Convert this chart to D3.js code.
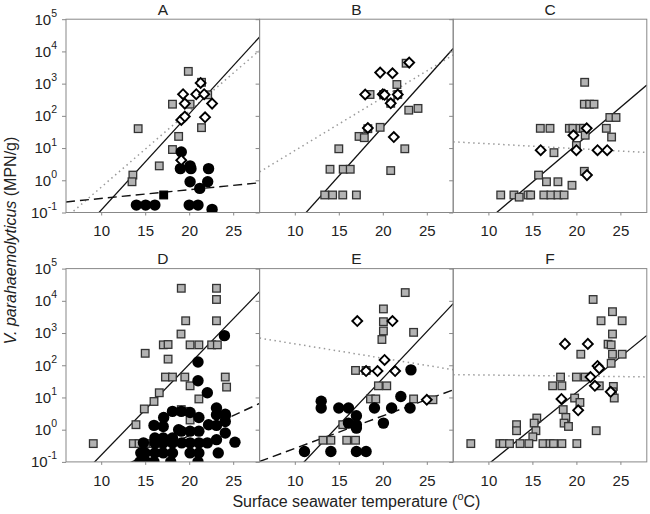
<!DOCTYPE html>
<html><head><meta charset="utf-8">
<script src="https://cdn.jsdelivr.net/npm/d3@7"></script>
<style>body{margin:0;background:#fff}svg{display:block}</style>
</head><body><svg id="c" width="650" height="514"></svg>
<script>
// ---------- DATA ----------
const panelNames = ["A","B","C","D","E","F"];
const xTicks = [10,15,20,25];
const yTickExps = [-1,0,1,2,3,4,5];
const xTitle = "Surface seawater temperature (";
const yTitleItalic = "V. parahaemolyticus";
const yTitleRest = " (MPN/g)";

// [temperature °C, MPN/g]
const squaresA = [[14.2,40],[13.6,1.45],[13.5,0.9],[16.6,2.8],[18.1,9],[18.8,23],[18.1,230],[19.9,2400],[20.1,230],[21.4,43],[21.4,1100],[22.1,450]];
const diamondsA = [[19.3,470],[20.8,470],[21.7,470],[22.6,240],[19.5,240],[21.3,1050],[21.8,90],[19.1,75],[19.5,95],[19.1,4.2]];
const circlesA = [[19.1,7.6],[19.0,2.3],[20.1,2.8],[20.2,2.3],[20.1,0.9],[21.2,0.56],[22.2,2.3],[22.1,0.9],[14.0,0.17],[15.05,0.17],[16.1,0.17],[20.0,0.17],[21.0,0.17],[22.6,0.125]];
const blackSquaresA = [[17.1,0.35]];

const squaresB = [[22.65,4300],[21.6,940],[18.55,460],[20.1,460],[21.7,460],[20.9,245],[22.95,150],[24.0,170],[19.7,44],[18.3,40],[17.3,23],[17.9,21],[15.0,9.5],[22.5,9.5],[14.0,2.2],[15.5,2.2],[16.3,2.2],[20.9,2.0],[13.4,0.35],[14.3,0.35],[15.45,0.35],[17.0,0.35]];
const diamondsB = [[23.0,4500],[19.7,2200],[21.1,2100],[18.0,460],[20.0,470],[20.2,450],[21.7,460],[20.9,245],[18.3,42],[21.25,22]];

const squaresC = [[20.94,1100],[20.9,230],[21.5,230],[22.0,230],[23.8,89],[24.5,89],[15.9,41],[17.0,41],[19.2,41],[19.6,41],[20.4,41],[20.8,41],[23.4,41],[21.0,25],[24.0,22],[17.45,7.2],[20.0,12],[20.9,1.9],[15.7,1.45],[16.6,0.9],[17.9,0.9],[19.5,0.7],[11.4,0.35],[12.9,0.35],[14.5,0.35],[14.8,0.35],[16.3,0.35],[17.1,0.35],[17.9,0.35],[18.6,0.35],[13.5,0.3]];
const diamondsC = [[21.17,41],[19.66,25],[15.94,8.6],[20.0,8.6],[22.4,8.6],[23.5,8.6],[21.2,1.45]];

const squaresD = [[9.1,0.37],[15.0,235],[13.95,1.43],[14.9,4.4],[16.0,7.5],[16.6,14],[17.06,430],[17.6,440],[17.6,155],[17.3,43],[18.1,43],[19.1,24500],[19.6,2400],[19.07,930],[20.1,430],[21.1,430],[22.55,430],[23.2,430],[19.5,43],[20.1,23],[21.1,9],[19.1,4.2],[19.5,3.7],[20.1,2],[23.1,24500],[23.1,11000],[23.1,2400],[24.1,43],[24.25,21],[13.65,0.37],[14.3,0.37],[15.05,0.37],[15.9,0.37],[16.6,0.37]];
const circlesD = [[24.0,830],[21.0,126],[21.0,33],[22.06,14],[23.1,4.7],[24.1,3.0],[23.1,2.9],[24.1,2.7],[23.1,1.36],[24.1,1.8],[18.1,3.7],[19.1,3.7],[20.1,3.4],[21.1,2.4],[17.1,2.4],[16.0,1.36],[17.05,1.26],[22.2,1.43],[18.8,1.0],[19.1,0.9],[20.1,0.9],[21.1,0.9],[24.1,0.79],[16.1,0.55],[17.05,0.55],[18.1,0.55],[23.1,0.49],[25.2,0.41],[14.8,0.39],[16.1,0.39],[17.05,0.39],[18.1,0.39],[19.15,0.39],[20.1,0.39],[21.1,0.39],[22.06,0.39],[15.0,0.19],[16.1,0.19],[17.05,0.19],[18.1,0.19],[20.1,0.19],[21.1,0.19],[23.3,0.19],[14.5,0.19],[14.4,0.1],[15.1,0.1],[16.0,0.1],[17.9,0.1],[21.0,0.1]];

const squaresE = [[22.55,18000],[20.07,5600],[20.07,2250],[20.07,1160],[19.9,630],[23.5,1050],[16.9,69],[18.1,69],[19.5,23],[20.45,23],[18.6,9],[19.2,9],[23.5,9],[25.7,8.5],[15.45,1.43],[13.2,0.47],[14.1,0.47],[15.9,0.47],[16.9,0.47]];
const diamondsE = [[17.1,2350],[21.1,2350],[20.2,146],[18.1,66],[19.4,66],[21.4,66],[25.0,8.5]];
const circlesE = [[23.2,72],[13.0,7.6],[13.0,4.7],[15.0,4.7],[16.1,4.7],[17.0,2.7],[19.05,4.7],[21.0,4.7],[22.05,10.7],[23.1,4.7],[16.1,1.6],[17.0,1.43],[17.0,1.12],[20.07,1.6],[11.1,0.21],[14.1,0.21],[17.0,0.21],[18.1,0.21]];

const squaresF = [[21.9,11000],[24.1,4600],[22.8,2400],[25.2,2400],[24.1,930],[23.6,450],[23.95,430],[24.1,220],[25.2,220],[20.5,220],[23.95,115],[18.2,43],[20.0,43],[21.0,43],[17.3,23],[18.35,23],[22.6,23],[24.2,22],[24.1,15],[24.3,9.6],[19.8,9.6],[20.4,7],[18.5,4.2],[18.8,2.4],[18.6,1.6],[19.1,1.26],[15.5,2.3],[15.2,1.6],[15.4,0.93],[15.05,0.6],[13.2,1.43],[13.2,0.93],[22.25,0.93],[8.0,0.37],[11.3,0.37],[11.7,0.37],[12.4,0.37],[13.6,0.37],[14.6,0.37],[16.2,0.37],[17.0,0.37],[17.4,0.37],[18.35,0.37],[20.05,0.37]];
const diamondsF = [[18.7,460],[21.3,460],[22.4,95],[22.6,80],[21.6,43],[22.1,23],[23.9,15],[18.3,9],[20.2,4]];

// regression fits: log10(MPN/g) = intercept + slope * T
const solidFits  = [[-3.911,0.2986],[-4.434,0.3044],[-3.538,0.232],[-3.61,0.282],[-4.207,0.29],[-3.289,0.222]];
const dottedFits = [[-2.575,0.236],[-0.73,0.165],[1.285,-0.0151],null,[3.11,-0.0446],[1.728,-0.0032]];
const dashedFits = [[-0.834,0.027],null,null,[-2.686,0.125],[-1.592,0.101],null];

const squaresAll = [squaresA,squaresB,squaresC,squaresD,squaresE,squaresF];
const diamondsAll = [diamondsA,diamondsB,diamondsC,[],diamondsE,diamondsF];
const circlesAll = [circlesA,[],[],circlesD,circlesE,[]];
const blackSquaresAll = [blackSquaresA,[],[],[],[],[]];

// ---------- LAYOUT ----------
const svg = d3.select("#c");
const FONT = "'Liberation Sans', Arial, sans-serif";
const left = 66, pw = 193.6, ph = 193.3;
const rowTop = [19.2, 268.6];
const xDomain = [6,28];

panelNames.forEach((name,i)=>{
  const col = i%3, row = Math.floor(i/3);
  const x0 = left + col*pw, y0 = rowTop[row];
  const x = d3.scaleLinear().domain(xDomain).range([x0, x0+pw]);
  const y = d3.scaleLog().domain([0.1,1e5]).range([y0+ph, y0]);
  const g = svg.append("g");

  const clipId = "clip"+i;
  svg.append("clipPath").attr("id",clipId).append("rect")
    .attr("x",x0).attr("y",y0).attr("width",pw).attr("height",ph);

  // y axis
  const ya = g.append("g").attr("transform",`translate(${x0},0)`)
    .call(d3.axisLeft(y).tickValues(yTickExps.map(e=>Math.pow(10,e))).tickSize(4).tickFormat(""));
  ya.select(".domain").remove();
  ya.selectAll(".tick line").attr("stroke","#888");
  if(col===0){
    yTickExps.forEach(e=>{
      const t = g.append("text").attr("x",x0-9).attr("y",y(Math.pow(10,e))).attr("dy","0.36em")
        .attr("text-anchor","end").attr("font-family",FONT).attr("font-size",15).attr("fill","#222");
      t.append("tspan").text("10");
      t.append("tspan").attr("font-size",10.5).attr("dy","-0.75em").text(String(e));
    });
  }
  // x axis
  const xa = g.append("g").attr("transform",`translate(0,${y0+ph})`)
    .call(d3.axisBottom(x).tickValues(xTicks).tickSize(3).tickPadding(10));
  xa.select(".domain").remove();
  xa.selectAll(".tick line").attr("stroke","#888");
  xa.selectAll(".tick text").attr("font-family",FONT).attr("font-size",15).attr("fill","#222");

  // fit lines
  const lg = g.append("g").attr("clip-path",`url(#${clipId})`);
  const fitLine = d3.line().x(d=>x(d[0])).y(d=>y(d[1]));
  const fitPts = f => xDomain.map(t=>[t, Math.pow(10, f[0]+f[1]*t)]);
  if(dottedFits[i]) lg.append("path").attr("d",fitLine(fitPts(dottedFits[i])))
    .attr("fill","none").attr("stroke","#9a9a9a").attr("stroke-width",1.5).attr("stroke-dasharray","1.5,3.5");
  if(dashedFits[i]) lg.append("path").attr("d",fitLine(fitPts(dashedFits[i])))
    .attr("fill","none").attr("stroke","#111").attr("stroke-width",1.4).attr("stroke-dasharray","9,5");
  if(solidFits[i]) lg.append("path").attr("d",fitLine(fitPts(solidFits[i])))
    .attr("fill","none").attr("stroke","#111").attr("stroke-width",1.3);

  // markers
  const mg = g.append("g").attr("clip-path",`url(#${clipId})`);
  const s = 7.6;
  mg.selectAll("rect.sq").data(squaresAll[i]).join("rect").attr("class","sq")
    .attr("x",d=>x(d[0])-s/2).attr("y",d=>y(d[1])-s/2).attr("width",s).attr("height",s)
    .attr("fill","#b3b3b3").attr("stroke","#333").attr("stroke-width",1.3);
  mg.selectAll("rect.bsq").data(blackSquaresAll[i]).join("rect").attr("class","bsq")
    .attr("x",d=>x(d[0])-s/2).attr("y",d=>y(d[1])-s/2).attr("width",s).attr("height",s)
    .attr("fill","#000").attr("stroke","#000").attr("stroke-width",1.3);
  mg.selectAll("circle").data(circlesAll[i]).join("circle")
    .attr("cx",d=>x(d[0])).attr("cy",d=>y(d[1])).attr("r",5.7).attr("fill","#000");
  const ds = 7;
  mg.selectAll("rect.dm").data(diamondsAll[i]).join("rect").attr("class","dm")
    .attr("x",-ds/2).attr("y",-ds/2).attr("width",ds).attr("height",ds)
    .attr("transform",d=>`translate(${x(d[0])},${y(d[1])}) rotate(45)`)
    .attr("fill","#fff").attr("stroke","#000").attr("stroke-width",1.9);

  // frame
  g.append("rect").attr("x",x0).attr("y",y0).attr("width",pw).attr("height",ph)
    .attr("fill","none").attr("stroke","#888").attr("stroke-width",1);

  // title
  g.append("text").attr("x",x0+pw/2).attr("y",y0-4.5).attr("text-anchor","middle")
    .attr("font-family",FONT).attr("font-size",15.5).attr("fill","#222").text(name);
});

// axis titles
const xt = svg.append("text").attr("x",left+1.5*pw).attr("y",507).attr("text-anchor","middle")
  .attr("font-family",FONT).attr("font-size",16).attr("fill","#222");
xt.append("tspan").text(xTitle);
xt.append("tspan").attr("font-size",11).attr("dy","-0.6em").text("o");
xt.append("tspan").attr("dy","0.4em").text("C)");

const yt = svg.append("text").attr("transform",`translate(16,${rowTop[0] + (rowTop[1]+ph-rowTop[0])/2}) rotate(-90)`)
  .attr("text-anchor","middle").attr("font-family",FONT).attr("font-size",16).attr("fill","#222");
yt.append("tspan").attr("font-style","italic").text(yTitleItalic);
yt.append("tspan").text(yTitleRest);
</script></body></html>
